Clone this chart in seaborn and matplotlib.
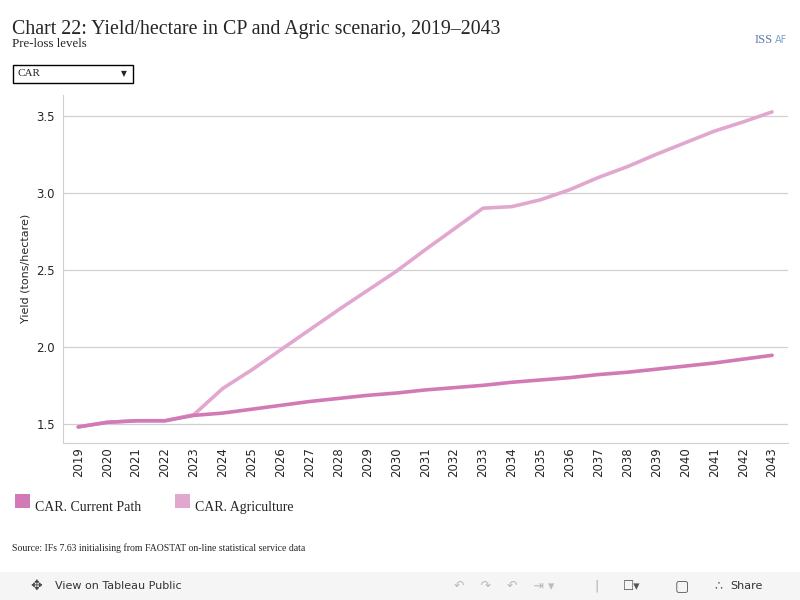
import matplotlib.pyplot as plt
from matplotlib.patches import Rectangle
import numpy as np
import pandas as pd
import seaborn as sns

years = list(range(2019, 2044))
current_path = [1.48, 1.51, 1.52, 1.52, 1.555, 1.57, 1.595, 1.62, 1.645, 1.665,
                1.685, 1.70, 1.72, 1.735, 1.75, 1.77, 1.785, 1.80, 1.82, 1.835,
                1.855, 1.875, 1.895, 1.92, 1.945]
agriculture = [1.48, 1.51, 1.52, 1.52, 1.56, 1.73, 1.85, 1.98, 2.11, 2.24,
               2.365, 2.49, 2.63, 2.765, 2.90, 2.91, 2.955, 3.02, 3.10, 3.17,
               3.25, 3.325, 3.40, 3.46, 3.525]
series_names = ["CAR. Current Path", "CAR. Agriculture"]
colors = ["#d17ab5", "#e2a7cf"]

df = pd.DataFrame({
    "year": years * 2,
    "yield": current_path + agriculture,
    "scenario": [series_names[0]] * len(years) + [series_names[1]] * len(years),
})

sns.set_style("white")
plt.rcParams["font.family"] = ["DejaVu Sans"]

fig = plt.figure(figsize=(8, 6), dpi=100)
ax = fig.add_axes([0.079, 0.262, 0.906, 0.580])

# draw agriculture first so current path sits on top
sns.lineplot(data=df, x="year", y="yield", hue="scenario",
             hue_order=series_names[::-1], palette=colors[::-1],
             linewidth=2.6, legend=False, ax=ax)

ax.set_xlim(2018.48, 2043.55)
ax.set_ylim(1.377, 3.636)
ax.set_yticks([1.5, 2.0, 2.5, 3.0, 3.5])
ax.set_yticklabels(["1.5", "2.0", "2.5", "3.0", "3.5"], fontsize=8.5)
ax.set_xticks(years)
ax.set_xticklabels([str(y) for y in years], rotation=90, fontsize=8.5)
ax.set_xticks(np.arange(2018.5, 2044, 1), minor=True)
ax.tick_params(axis="x", which="minor", length=4, color="#dddddd", width=0.8)
ax.tick_params(axis="x", which="major", length=0, pad=3)
ax.tick_params(axis="y", length=0, pad=6)
ax.yaxis.grid(True, color="#d0d0d0", linewidth=0.9)
ax.set_xlabel("")
ax.set_ylabel("Yield (tons/hectare)", fontsize=8)
for side in ["top", "right"]:
    ax.spines[side].set_visible(False)
ax.spines["left"].set_color("#d0d0d0")
ax.spines["bottom"].set_color("#d0d0d0")

serif = ["Liberation Serif", "DejaVu Serif"]
fig.text(0.015, 0.943, "Chart 22: Yield/hectare in CP and Agric scenario, 2019\u20132043",
         family=serif, fontsize=14.3, va="baseline")
fig.text(0.015, 0.921, "Pre-loss levels", family=serif, fontsize=9.3, va="baseline")

# dropdown box
fig.patches.append(Rectangle((0.016, 0.862), 0.150, 0.030, transform=fig.transFigure,
                             fill=False, edgecolor="black", linewidth=1))
fig.text(0.022, 0.877, "CAR", family=serif, fontsize=8, va="center")
fig.text(0.155, 0.877, "\u25bc", fontsize=5.5, va="center", ha="center")

# logo stand-in
fig.text(0.966, 0.933, "ISS", family=serif, fontsize=9, color="#5b7aa8",
         ha="right", va="center")
fig.text(0.969, 0.933, "AF", fontsize=7, color="#7aa0cc", ha="left", va="center")

# legend
for i, (name, col) in enumerate(zip(series_names, colors)):
    x0 = 0.019 + i * 0.200
    fig.patches.append(Rectangle((x0, 0.153), 0.018, 0.024, transform=fig.transFigure,
                                 facecolor=col, edgecolor="none"))
    fig.text(x0 + 0.025, 0.148, name, family=serif, fontsize=10, va="baseline")

fig.text(0.015, 0.087, "Source: IFs 7.63 initialising from FAOSTAT on-line statistical service data",
         family=serif, fontsize=7, va="center")

# tableau toolbar
fig.patches.append(Rectangle((0, 0), 1, 0.047, transform=fig.transFigure,
                             facecolor="#f5f5f5", edgecolor="none"))
fig.text(0.045, 0.023, "\u2725", fontsize=10, color="#444444", va="center", ha="center")
fig.text(0.069, 0.023, "View on Tableau Public", fontsize=8, color="#333333", va="center")
fig.text(0.913, 0.023, "Share", fontsize=8, color="#333333", va="center")
fig.text(0.898, 0.023, "\u2234", fontsize=9, color="#555555", va="center", ha="center")
fig.text(0.852, 0.023, "\u25a2", fontsize=11, color="#555555", va="center", ha="center")
fig.text(0.79, 0.023, "\u2610\u25be", fontsize=9, color="#555555", va="center", ha="center")
fig.text(0.745, 0.023, "|", fontsize=9, color="#aaaaaa", va="center", ha="center")
fig.text(0.63, 0.023, "\u21b6    \u21b7    \u21b6    \u21e5 \u25be", fontsize=9,
         color="#bbbbbb", va="center", ha="center")

fig.savefig("out.png", dpi=100)
